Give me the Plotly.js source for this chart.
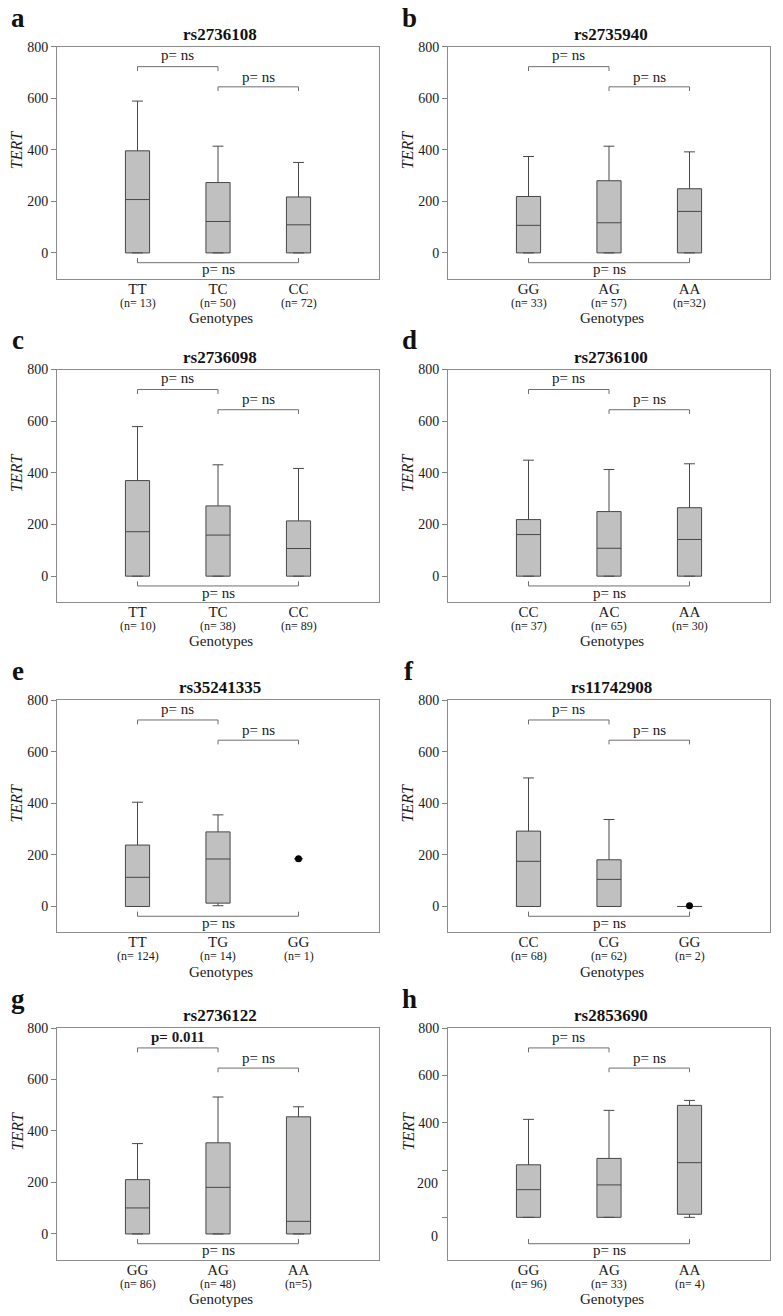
<!DOCTYPE html>
<html><head><meta charset="utf-8">
<script src="https://cdn.plot.ly/plotly-3.0.1.min.js"></script>
<style>html,body{margin:0;padding:0;background:#fff}</style>
</head><body><div id="chart" style="width:783px;height:1316px"></div>
<script>
// ---------------- DATA ----------------
const panelLetters = ['a','b','c','d','e','f','g','h'];
const snpTitles = ['rs2736108','rs2735940','rs2736098','rs2736100','rs35241335','rs11742908','rs2736122','rs2853690'];
const genotypes = [
  ['TT','TC','CC'],['GG','AG','AA'],['TT','TC','CC'],['CC','AC','AA'],
  ['TT','TG','GG'],['CC','CG','GG'],['GG','AG','AA'],['GG','AG','AA']];
const sampleSizes = [
  ['(n= 13)','(n= 50)','(n= 72)'],['(n= 33)','(n= 57)','(n=32)'],
  ['(n= 10)','(n= 38)','(n= 89)'],['(n= 37)','(n= 65)','(n= 30)'],
  ['(n= 124)','(n= 14)','(n= 1)'],['(n= 68)','(n= 62)','(n= 2)'],
  ['(n= 86)','(n= 48)','(n=5)'],['(n= 96)','(n= 33)','(n= 4)']];
const upperWhisker = [
  [589,414,351],[374,414,392],[579,431,417],[449,413,435],
  [404,355,185],[498,337,0],[351,532,494],[414,452,494]];
const q3 = [
  [396,273,217],[219,280,249],[370,272,214],[219,250,265],
  [238,289,185],[292,181,0],[211,354,455],[222,249,473]];
const median = [
  [207,122,109],[107,117,161],[172,159,107],[161,108,142],
  [113,184,185],[175,105,0],[101,181,49],[117,137,231]];
const q1 = [
  [0,0,0],[0,0,0],[0,0,0],[0,0,0],
  [0,13,185],[0,0,0],[0,0,0],[0,0,13]];
const lowerWhisker = [
  [0,0,0],[0,0,0],[0,0,0],[0,0,0],
  [0,3,185],[0,0,0],[0,0,0],[0,0,0]];
const singlePointPanel = [4,5];
const singlePointGroup = [2,2];
const singlePointValue = [185,3];
const comparisons = [[0,1],[1,2],[0,2]];
const pValues = [
  ['p= ns','p= ns','p= ns'],['p= ns','p= ns','p= ns'],['p= ns','p= ns','p= ns'],['p= ns','p= ns','p= ns'],
  ['p= ns','p= ns','p= ns'],['p= ns','p= ns','p= ns'],['p= 0.011','p= ns','p= ns'],['p= ns','p= ns','p= ns']];
const yTickValues = [0,200,400,600,800];
const yTickLabels = ['0','200','400','600','800'];
const xAxisTitle = 'Genotypes';
const yAxisTitle = 'TERT';

// ---------------- LAYOUT GEOMETRY (pixels) ----------------
const W = 783, H = 1316;
const FONT = 'Liberation Serif, Times New Roman, serif';
const TXT = '#1a1a1a';
const colX = [[57,379],[448,770]];
const rowY = [[46.7,278.7],[369.5,602],[700,932.3],[1028,1259.7]];
const px2x = p => p / W;
const py2y = p => 1 - p / H;
const midOf = (baseline, size) => baseline - 0.3375 * size;

const data = [];
const shapes = [];
const annotations = [];
const layout = {
  width: W, height: H,
  margin: {l:0, r:0, t:0, b:0},
  paper_bgcolor: '#ffffff', plot_bgcolor: '#ffffff',
  font: {family: FONT, color: TXT},
  showlegend: false,
  boxmode: 'overlay',
  shapes: shapes, annotations: annotations
};

// bracket levels in axis-domain fractions [line, tickEnd], text centre
const bracketLine = [0.914, 0.827, 0.069];
const bracketEnd  = [0.895, 0.809, 0.089];
const pTextY      = [0.963, 0.871, 0.040];

for (let k = 0; k < 8; k++) {
  const col = k % 2, row = Math.floor(k / 2);
  const [xl, xr] = colX[col];
  const [yt, yb] = rowY[row];
  const sx = k === 0 ? '' : String(k + 1);
  const xa = 'x' + sx, ya = 'y' + sx;
  const isH = k === 7;
  const yRange = isH ? [-179, 800] : [-100, 800];

  layout['xaxis' + sx] = {
    domain: [px2x(xl), px2x(xr)], anchor: ya,
    range: [-1, 3], showgrid: false, zeroline: false,
    showline: true, mirror: true, linecolor: '#8c8c8c', linewidth: 1,
    ticks: '', tickvals: [0,1,2], ticktext: genotypes[k],
    tickfont: {family: FONT, size: 15, color: TXT},
    ticklabelstandoff: -4,
    fixedrange: true
  };
  layout['yaxis' + sx] = {
    domain: [py2y(yb), py2y(yt)], anchor: xa,
    range: yRange, showgrid: false, zeroline: false,
    showline: true, mirror: true, linecolor: '#8c8c8c', linewidth: 1,
    ticks: 'outside', ticklen: 5, tickcolor: '#808080', tickwidth: 1,
    tickvals: yTickValues,
    ticktext: isH ? yTickLabels.map((t, i) => i < 2 ? '' : t) : yTickLabels,
    tickfont: {family: FONT, size: 14, color: TXT},
    fixedrange: true
  };

  // boxes
  for (let g = 0; g < 3; g++) {
    const isSingle = k === 4 && g === 2;
    data.push({
      type: 'box', xaxis: xa, yaxis: ya,
      x: [g], q1: [q1[k][g]], median: [median[k][g]], q3: [q3[k][g]],
      lowerfence: [lowerWhisker[k][g]], upperfence: [upperWhisker[k][g]],
      width: isSingle ? 0.1 : 0.3,
      fillcolor: '#c0c0c0',
      line: {color: '#474747', width: 1},
      whiskerwidth: 0.45,
      boxpoints: false, hoverinfo: 'skip', showlegend: false
    });
  }
  // single observations (dots)
  singlePointPanel.forEach((p, i) => {
    if (p !== k) return;
    data.push({
      type: 'scatter', mode: 'markers', xaxis: xa, yaxis: ya,
      x: [singlePointGroup[i]], y: [singlePointValue[i]],
      marker: {color: '#000000', size: 7, symbol: 'circle'},
      hoverinfo: 'skip', showlegend: false
    });
  });

  // brackets + p-values
  comparisons.forEach((c, j) => {
    const [a, b] = c;
    shapes.push({
      type: 'path', xref: xa, yref: ya + ' domain',
      path: `M ${a},${bracketEnd[j]} L ${a},${bracketLine[j]} L ${b},${bracketLine[j]} L ${b},${bracketEnd[j]}`,
      line: {color: '#6e6e6e', width: 1}
    });
    const sig = pValues[k][j].indexOf('ns') === -1;
    annotations.push({
      xref: xa, yref: ya + ' domain', x: (a + b) / 2, y: pTextY[j],
      text: sig ? '<b>' + pValues[k][j] + '</b>' : pValues[k][j],
      showarrow: false, xanchor: 'center', yanchor: 'middle',
      font: {family: FONT, size: 15, color: TXT}
    });
  });

  // sample sizes under genotype labels
  for (let g = 0; g < 3; g++) {
    annotations.push({
      xref: xa, yref: 'paper', x: g, y: py2y(midOf(yb + 28, 12)),
      text: sampleSizes[k][g], showarrow: false, xanchor: 'center', yanchor: 'middle',
      font: {family: FONT, size: 12, color: TXT}
    });
  }
  // x axis title
  annotations.push({
    xref: 'paper', yref: 'paper', x: px2x((xl + xr) / 2 + 3), y: py2y(midOf(yb + 44.5, 15)),
    text: xAxisTitle, showarrow: false, xanchor: 'center', yanchor: 'middle',
    font: {family: FONT, size: 15, color: TXT}
  });
  // y axis title
  annotations.push({
    xref: 'paper', yref: 'paper', x: px2x(xl - 40.5), y: py2y(yt + 104),
    text: '<i>' + yAxisTitle + '</i>', textangle: -90, showarrow: false,
    xanchor: 'center', yanchor: 'middle',
    font: {family: FONT, size: 16, color: TXT}
  });
  // panel title
  annotations.push({
    xref: 'paper', yref: 'paper', x: px2x((xl + xr) / 2 + 2), y: py2y(midOf(yt - 6.5, 17)),
    text: '<b>' + snpTitles[k] + '</b>', showarrow: false, xanchor: 'center', yanchor: 'middle',
    font: {family: FONT, size: 17, color: '#111111'}
  });
  // panel letter
  annotations.push({
    xref: 'paper', yref: 'paper', x: px2x(col === 0 ? 18 : 409), y: py2y(midOf(yt - 20, 27)),
    text: '<b>' + panelLetters[k] + '</b>', showarrow: false, xanchor: 'center', yanchor: 'middle',
    font: {family: FONT, size: 27, color: '#111111'}
  });
  // displaced tick labels of panel h
  if (isH) {
    const shifted = [[yTickLabels[1], 142], [yTickLabels[0], -83]];
    shifted.forEach(([t, v]) => {
      annotations.push({
        xref: xa + ' domain', yref: ya, x: 0, y: v, xshift: -8,
        text: t, showarrow: false, xanchor: 'right', yanchor: 'middle',
        font: {family: FONT, size: 14, color: TXT}
      });
    });
  }
}

Plotly.newPlot('chart', data, layout, {staticPlot: true, displayModeBar: false});
</script></body></html>
